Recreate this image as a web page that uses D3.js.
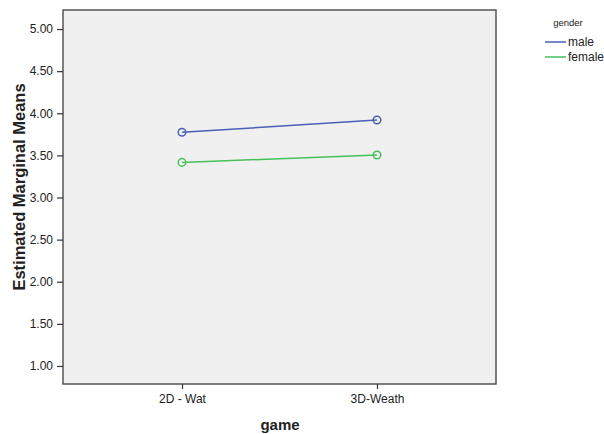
<!DOCTYPE html>
<html><head><meta charset="utf-8">
<script src="https://cdn.jsdelivr.net/npm/d3@7"></script>
<style>body{margin:0;background:#fff;} svg{display:block;}</style>
</head><body>
<svg id="c" width="604" height="434"></svg>
<script>
const categories = ["2D - Wat", "3D-Weath"];
const seriesNames = ["male", "female"];
const maleValues = [3.774, 3.92];
const femaleValues = [3.417, 3.504];
const yTicks = [1.0, 1.5, 2.0, 2.5, 3.0, 3.5, 4.0, 4.5, 5.0];
const colors = ["#4a5fb5", "#47c15a"];

const svg = d3.select("#c");
const L = 63, R = 496, T = 10, B = 384;
const font = "'Liberation Sans', Arial, sans-serif";

const y = d3.scaleLinear().domain([0.786, 5.226]).range([B, T]);
const x = d3.scalePoint().domain(categories).range([182, 377]);

svg.append("rect").attr("x", L).attr("y", T).attr("width", R - L).attr("height", B - T)
  .attr("fill", "#f0f0f0").attr("stroke", "#555").attr("stroke-width", 1.5);

const yAxis = svg.append("g").attr("transform", `translate(${L},0)`)
  .call(d3.axisLeft(y).tickValues(yTicks).tickFormat(d3.format(".2f")).tickSize(6).tickSizeOuter(0));
yAxis.select(".domain").remove();
yAxis.selectAll("line").attr("stroke", "#333").attr("stroke-width", 1.2);
yAxis.selectAll("text").attr("font-family", font).attr("font-size", 12).attr("fill", "#222").attr("dx", "-1");

const xAxis = svg.append("g").attr("transform", `translate(0,${B})`)
  .call(d3.axisBottom(x).tickSize(5).tickSizeOuter(0));
xAxis.select(".domain").remove();
xAxis.selectAll("line").attr("stroke", "#333").attr("stroke-width", 1.2);
xAxis.selectAll("text").attr("font-family", font).attr("font-size", 12).attr("fill", "#222").attr("dy", "0.95em");

svg.append("text").attr("x", 280).attr("y", 430).attr("text-anchor", "middle")
  .attr("font-family", font).attr("font-weight", "bold").attr("font-size", 15).attr("fill", "#222").text("game");
svg.append("text").attr("transform", "translate(25,187) rotate(-90)").attr("text-anchor", "middle")
  .attr("font-family", font).attr("font-weight", "bold").attr("font-size", 16.5).attr("fill", "#222").text("Estimated Marginal Means");

const series = [maleValues, femaleValues];
const line = d3.line().x((d, i) => x(categories[i])).y(d => y(d));
series.forEach((vals, s) => {
  svg.append("path").datum(vals).attr("d", line).attr("fill", "none")
    .attr("stroke", colors[s]).attr("stroke-width", 1.5);
  svg.selectAll(null).data(vals).enter().append("circle")
    .attr("cx", (d, i) => x(categories[i])).attr("cy", d => y(d)).attr("r", 3.8)
    .attr("fill", "none").attr("stroke", colors[s]).attr("stroke-width", 1.5);
});

svg.append("text").attr("x", 568).attr("y", 26).attr("text-anchor", "middle")
  .attr("font-family", font).attr("font-size", 9.5).attr("fill", "#222").text("gender");
seriesNames.forEach((n, i) => {
  const yy = 42 + i * 15;
  svg.append("line").attr("x1", 545).attr("x2", 566).attr("y1", yy).attr("y2", yy)
    .attr("stroke", colors[i]).attr("stroke-width", 1.5);
  svg.append("text").attr("x", 568).attr("y", yy + 4).attr("font-family", font)
    .attr("font-size", 12).attr("fill", "#222").text(n);
});
</script>
</body></html>
